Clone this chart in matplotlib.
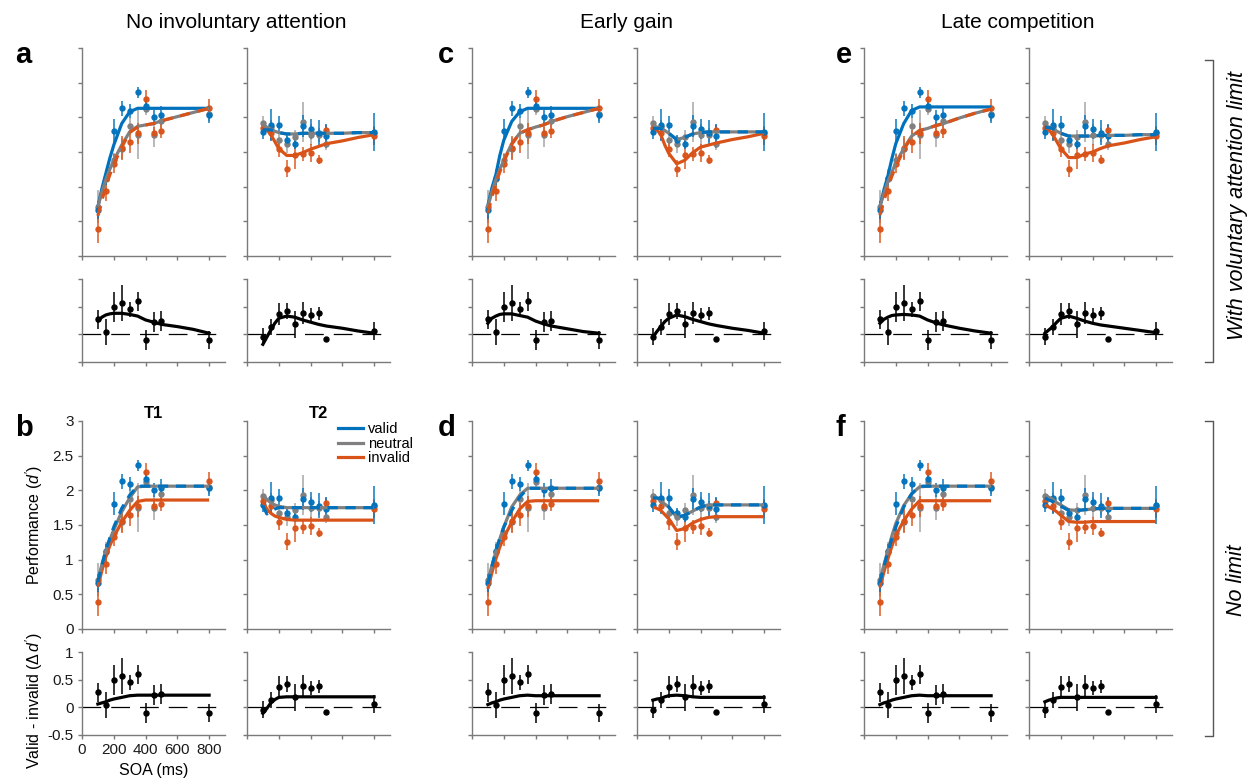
import matplotlib
matplotlib.use('Agg')
import matplotlib.pyplot as plt
from matplotlib.lines import Line2D

plt.rcParams['font.family'] = ['Liberation Sans', 'DejaVu Sans']
plt.rcParams['mathtext.fontset'] = 'custom'
plt.rcParams['mathtext.rm'] = 'Liberation Sans'
plt.rcParams['mathtext.it'] = 'Liberation Sans:italic'

BLUE = '#0072BD'
ORANGE = '#D95319'
GRAY = '#808080'
GRAY_ERR = '#a6a6a6'

# ---------------- data (same in every panel) ----------------
SOA = [100, 150, 200, 250, 300, 350, 400, 450, 500, 800]

T1_valid = [0.66, 1.13, 1.81, 2.13, 2.09, 2.36, 2.17, 2.01, 2.04, 2.04]
T1_valid_err = [0.13, 0.10, 0.17, 0.11, 0.10, 0.08, 0.09, 0.10, 0.13, 0.12]
T1_neutral = [0.71, 1.11, 1.38, 1.55, 1.87, 1.75, 2.12, 1.75, 1.94, 2.05]
T1_neutral_err = [0.24, 0.15, 0.10, 0.15, 0.12, 0.35, 0.08, 0.18, 0.10, 0.10]
T1_invalid = [0.39, 0.94, 1.33, 1.56, 1.65, 1.77, 2.27, 1.78, 1.80, 2.14]
T1_invalid_err = [0.20, 0.15, 0.14, 0.17, 0.17, 0.15, 0.13, 0.08, 0.10, 0.12]

T2_valid = [1.79, 1.89, 1.89, 1.67, 1.62, 1.87, 1.83, 1.78, 1.73, 1.79]
T2_valid_err = [0.10, 0.23, 0.13, 0.08, 0.07, 0.16, 0.14, 0.18, 0.17, 0.27]
T2_neutral = [1.92, 1.86, 1.68, 1.61, 1.72, 1.93, 1.75, 1.75, 1.61, 1.78]
T2_neutral_err = [0.10, 0.10, 0.10, 0.12, 0.10, 0.29, 0.15, 0.10, 0.08, 0.10]
T2_invalid = [1.84, 1.77, 1.54, 1.26, 1.46, 1.47, 1.48, 1.39, 1.82, 1.73]
T2_invalid_err = [0.10, 0.10, 0.11, 0.12, 0.20, 0.10, 0.13, 0.06, 0.07, 0.13]

T1_diff = [0.27, 0.04, 0.50, 0.57, 0.45, 0.60, -0.10, 0.22, 0.24, -0.10]
T1_diff_err = [0.17, 0.23, 0.27, 0.33, 0.14, 0.17, 0.18, 0.18, 0.18, 0.16]
T2_diff = [-0.04, 0.13, 0.36, 0.42, 0.18, 0.39, 0.35, 0.38, -0.08, 0.06]
T2_diff_err = [0.15, 0.14, 0.20, 0.14, 0.24, 0.20, 0.12, 0.12, 0.02, 0.17]

# ---------------- model fits ----------------
SOA_FIT = [100, 125, 150, 175, 200, 250, 300, 350, 400, 450, 500, 600, 700, 800]

# a: no involuntary attention, with voluntary limit
a1_valid = [0.71, 0.97, 1.19, 1.41, 1.60, 1.91, 2.08, 2.13, 2.13, 2.13, 2.13, 2.13, 2.13, 2.13]
a1_neutral = [0.71, 0.92, 1.10, 1.25, 1.38, 1.60, 1.79, 1.87, 1.89, 1.91, 1.95, 2.01, 2.07, 2.13]
a1_invalid = [0.58, 0.80, 1.00, 1.17, 1.32, 1.57, 1.78, 1.86, 1.89, 1.91, 1.95, 2.01, 2.07, 2.13]
a2_valid = [1.82, 1.82, 1.82, 1.80, 1.78, 1.76, 1.76, 1.77, 1.77, 1.77, 1.77, 1.77, 1.78, 1.78]
a2_neutral = [1.89, 1.86, 1.83, 1.80, 1.78, 1.76, 1.76, 1.77, 1.77, 1.77, 1.77, 1.77, 1.78, 1.78]
a2_invalid = [1.87, 1.82, 1.75, 1.65, 1.55, 1.45, 1.45, 1.49, 1.54, 1.58, 1.62, 1.66, 1.71, 1.75]
a1_diff = [0.24, 0.31, 0.35, 0.37, 0.38, 0.38, 0.36, 0.33, 0.26, 0.22, 0.18, 0.14, 0.09, 0.02]
a2_diff = [-0.18, -0.05, 0.08, 0.20, 0.29, 0.33, 0.31, 0.26, 0.22, 0.18, 0.15, 0.11, 0.06, 0.02]

# b: no involuntary attention, no limit
b1_valid = [0.68, 0.92, 1.13, 1.31, 1.47, 1.74, 1.93, 2.06, 2.06, 2.06, 2.06, 2.06, 2.06, 2.06]
b1_neutral = [0.70, 0.93, 1.13, 1.29, 1.43, 1.69, 1.89, 2.05, 2.06, 2.06, 2.06, 2.06, 2.06, 2.06]
b1_invalid = [0.61, 0.84, 1.04, 1.20, 1.33, 1.54, 1.71, 1.84, 1.86, 1.86, 1.86, 1.86, 1.86, 1.86]
b2_valid = [1.78, 1.66, 1.70, 1.73, 1.75, 1.75, 1.75, 1.75, 1.75, 1.75, 1.75, 1.75, 1.75, 1.75]
b2_neutral = [1.93, 1.87, 1.82, 1.79, 1.77, 1.75, 1.75, 1.75, 1.75, 1.75, 1.75, 1.75, 1.75, 1.75]
b2_invalid = [1.83, 1.73, 1.67, 1.63, 1.61, 1.58, 1.57, 1.57, 1.57, 1.57, 1.57, 1.57, 1.57, 1.57]
b1_diff = [0.06, 0.08, 0.10, 0.13, 0.15, 0.18, 0.21, 0.22, 0.22, 0.22, 0.22, 0.22, 0.22, 0.22]
b2_diff = [-0.11, -0.02, 0.08, 0.14, 0.18, 0.19, 0.19, 0.19, 0.19, 0.19, 0.19, 0.19, 0.19, 0.19]

# c: early gain, with voluntary limit
c1_valid = [0.73, 0.98, 1.17, 1.45, 1.67, 1.94, 2.08, 2.13, 2.13, 2.13, 2.13, 2.13, 2.13, 2.13]
c1_neutral = [0.71, 0.92, 1.10, 1.25, 1.38, 1.62, 1.77, 1.82, 1.86, 1.89, 1.94, 2.01, 2.07, 2.13]
c1_invalid = [0.62, 0.85, 1.05, 1.21, 1.36, 1.61, 1.77, 1.82, 1.86, 1.89, 1.94, 2.01, 2.07, 2.13]
c2_valid = [1.84, 1.84, 1.84, 1.81, 1.77, 1.68, 1.71, 1.76, 1.78, 1.79, 1.79, 1.79, 1.79, 1.79]
c2_neutral = [1.88, 1.86, 1.84, 1.81, 1.77, 1.68, 1.71, 1.76, 1.78, 1.79, 1.79, 1.79, 1.79, 1.79]
c2_invalid = [1.85, 1.82, 1.75, 1.60, 1.48, 1.33, 1.38, 1.49, 1.57, 1.60, 1.63, 1.68, 1.72, 1.77]
c1_diff = [0.20, 0.29, 0.33, 0.36, 0.37, 0.37, 0.34, 0.31, 0.24, 0.19, 0.15, 0.10, 0.05, 0.02]
c2_diff = [-0.05, 0.05, 0.14, 0.23, 0.29, 0.35, 0.32, 0.27, 0.23, 0.19, 0.16, 0.11, 0.07, 0.02]

# d: early gain, no limit
d1_valid = [0.65, 0.90, 1.13, 1.31, 1.47, 1.71, 1.90, 2.03, 2.03, 2.03, 2.03, 2.03, 2.03, 2.03]
d1_neutral = [0.70, 0.91, 1.11, 1.30, 1.47, 1.76, 1.93, 2.03, 2.03, 2.03, 2.03, 2.03, 2.03, 2.03]
d1_invalid = [0.58, 0.81, 1.01, 1.18, 1.32, 1.54, 1.73, 1.84, 1.85, 1.85, 1.85, 1.85, 1.85, 1.85]
d2_valid = [1.89, 1.89, 1.88, 1.82, 1.76, 1.61, 1.64, 1.70, 1.76, 1.79, 1.79, 1.79, 1.79, 1.79]
d2_neutral = [1.93, 1.89, 1.85, 1.80, 1.76, 1.61, 1.64, 1.70, 1.76, 1.79, 1.79, 1.79, 1.79, 1.79]
d2_invalid = [1.76, 1.74, 1.71, 1.65, 1.59, 1.42, 1.45, 1.53, 1.58, 1.61, 1.62, 1.62, 1.62, 1.62]
d1_diff = [0.05, 0.08, 0.10, 0.13, 0.15, 0.18, 0.21, 0.22, 0.21, 0.21, 0.21, 0.21, 0.21, 0.21]
d2_diff = [0.13, 0.15, 0.16, 0.19, 0.21, 0.22, 0.21, 0.19, 0.18, 0.18, 0.18, 0.18, 0.18, 0.18]

# e: late competition, with voluntary limit
e1_valid = [0.71, 0.95, 1.15, 1.40, 1.62, 1.91, 2.10, 2.15, 2.15, 2.15, 2.15, 2.15, 2.15, 2.15]
e1_neutral = [0.71, 0.90, 1.07, 1.21, 1.34, 1.55, 1.73, 1.81, 1.84, 1.88, 1.91, 1.99, 2.06, 2.12]
e1_invalid = [0.59, 0.80, 0.98, 1.15, 1.29, 1.53, 1.72, 1.81, 1.84, 1.88, 1.91, 1.99, 2.06, 2.12]
e2_valid = [1.86, 1.85, 1.84, 1.80, 1.77, 1.73, 1.73, 1.73, 1.73, 1.74, 1.74, 1.74, 1.75, 1.75]
e2_neutral = [1.88, 1.86, 1.84, 1.80, 1.77, 1.73, 1.73, 1.73, 1.73, 1.74, 1.74, 1.74, 1.75, 1.75]
e2_invalid = [1.87, 1.82, 1.75, 1.65, 1.55, 1.42, 1.42, 1.47, 1.50, 1.55, 1.59, 1.63, 1.68, 1.72]
e1_diff = [0.20, 0.27, 0.31, 0.34, 0.35, 0.36, 0.35, 0.33, 0.26, 0.21, 0.17, 0.11, 0.06, 0.02]
e2_diff = [0.02, 0.08, 0.14, 0.22, 0.29, 0.33, 0.29, 0.24, 0.20, 0.17, 0.15, 0.11, 0.07, 0.03]

# f: late competition, no limit
f1_valid = [0.67, 0.90, 1.11, 1.30, 1.47, 1.76, 1.95, 2.06, 2.06, 2.06, 2.06, 2.06, 2.06, 2.06]
f1_neutral = [0.70, 0.92, 1.13, 1.34, 1.52, 1.78, 1.95, 2.05, 2.06, 2.06, 2.06, 2.06, 2.06, 2.06]
f1_invalid = [0.60, 0.82, 1.01, 1.19, 1.35, 1.56, 1.73, 1.85, 1.85, 1.85, 1.85, 1.85, 1.85, 1.85]
f2_valid = [1.89, 1.86, 1.84, 1.80, 1.77, 1.71, 1.71, 1.72, 1.73, 1.74, 1.74, 1.74, 1.74, 1.74]
f2_neutral = [1.93, 1.90, 1.87, 1.82, 1.79, 1.72, 1.71, 1.72, 1.73, 1.74, 1.74, 1.74, 1.74, 1.74]
f2_invalid = [1.79, 1.76, 1.73, 1.69, 1.64, 1.55, 1.54, 1.54, 1.55, 1.55, 1.55, 1.55, 1.55, 1.55]
f1_diff = [0.05, 0.08, 0.10, 0.13, 0.15, 0.18, 0.21, 0.22, 0.21, 0.21, 0.21, 0.21, 0.21, 0.21]
f2_diff = [0.10, 0.13, 0.15, 0.17, 0.18, 0.18, 0.18, 0.18, 0.18, 0.18, 0.18, 0.18, 0.18, 0.18]

COLUMN_TITLES = ['No involuntary attention', 'Early gain', 'Late competition']
ROW_LABELS = ['With voluntary attention limit', 'No limit']
PERF_TICKS = [0, 0.5, 1, 1.5, 2, 2.5, 3]
PERF_TICKLABELS = ['0', '0.5', '1', '1.5', '2', '2.5', '3']
DIFF_TICKS = [-0.5, 0, 0.5, 1]
DIFF_TICKLABELS = ['-0.5', '0', '0.5', '1']
SOA_TICKS = [0, 200, 400, 600, 800]
SOA_TICKLABELS = ['0', '200', '400', '600', '800']

# which colored fit coincides with neutral (drawn dashed)
panels = {
    'a': dict(t1=(a1_valid, a1_neutral, a1_invalid), t2=(a2_valid, a2_neutral, a2_invalid),
              d=(a1_diff, a2_diff), dash1='invalid', dash2='valid'),
    'b': dict(t1=(b1_valid, b1_neutral, b1_invalid), t2=(b2_valid, b2_neutral, b2_invalid),
              d=(b1_diff, b2_diff), dash1='valid', dash2='valid'),
    'c': dict(t1=(c1_valid, c1_neutral, c1_invalid), t2=(c2_valid, c2_neutral, c2_invalid),
              d=(c1_diff, c2_diff), dash1='invalid', dash2='valid'),
    'd': dict(t1=(d1_valid, d1_neutral, d1_invalid), t2=(d2_valid, d2_neutral, d2_invalid),
              d=(d1_diff, d2_diff), dash1='valid', dash2='valid'),
    'e': dict(t1=(e1_valid, e1_neutral, e1_invalid), t2=(e2_valid, e2_neutral, e2_invalid),
              d=(e1_diff, e2_diff), dash1='invalid', dash2='valid'),
    'f': dict(t1=(f1_valid, f1_neutral, f1_invalid), t2=(f2_valid, f2_neutral, f2_invalid),
              d=(f1_diff, f2_diff), dash1='valid', dash2='valid'),
}

W, H = 1248, 781
fig = plt.figure(figsize=(W / 100, H / 100), dpi=100)

SPINE = '#7a7a7a'
LW_FIT = 2.3
DASH = (3.2, 2.4)


def px_axes(left, top, width, height):
    return fig.add_axes([left / W, 1 - (top + height) / H, width / W, height / H])


def style(ax):
    for s in ['top', 'right']:
        ax.spines[s].set_visible(False)
    for s in ['left', 'bottom']:
        ax.spines[s].set_color(SPINE)
        ax.spines[s].set_linewidth(1.0)
    ax.tick_params(direction='out', length=3, width=1.0, color=SPINE,
                   labelsize=11, labelcolor='#1a1a1a', pad=3)
    ax.set_xlim(0, 900)
    ax.set_xticks(SOA_TICKS)


def draw_perf(ax, data, fits, dashed):
    fv, fn, fi = fits
    vals, errs = data
    ax.errorbar(SOA, vals[1], yerr=errs[1], fmt='o', ms=3.6, color=GRAY, ecolor=GRAY_ERR,
                elinewidth=1.1, capsize=0, zorder=2)
    ax.errorbar(SOA, vals[2], yerr=errs[2], fmt='o', ms=3.6, color=ORANGE, ecolor=ORANGE,
                elinewidth=1.1, capsize=0, zorder=2, alpha=0.95)
    ax.errorbar(SOA, vals[0], yerr=errs[0], fmt='o', ms=3.6, color=BLUE, ecolor=BLUE,
                elinewidth=1.1, capsize=0, zorder=2, alpha=0.95)
    solid_key = 'invalid' if dashed == 'valid' else 'valid'
    lines = {'valid': (fv, BLUE), 'invalid': (fi, ORANGE)}
    ys, col = lines[solid_key]
    ax.plot(SOA_FIT, ys, color=col, lw=LW_FIT, zorder=3, solid_capstyle='butt')
    ax.plot(SOA_FIT, fn, color=GRAY, lw=LW_FIT, zorder=4, solid_capstyle='butt')
    ys, col = lines[dashed]
    ax.plot(SOA_FIT, ys, color=col, lw=LW_FIT, zorder=5, dashes=DASH, dash_capstyle='butt')
    ax.set_ylim(0, 3)
    ax.set_yticks(PERF_TICKS)


def draw_diff(ax, vals, errs, fit):
    ax.hlines(0, 0, 850, colors='k', lw=0.9, linestyles=(0, (15, 8)), zorder=1)
    ax.errorbar(SOA, vals, yerr=errs, fmt='o', ms=3.6, color='k', ecolor='k',
                elinewidth=1.1, capsize=0, zorder=2)
    ax.plot(SOA_FIT, fit, color='k', lw=LW_FIT, zorder=3)
    ax.set_ylim(-0.5, 1)
    ax.set_yticks(DIFF_TICKS)


group_left = [82, 472, 864]
t2_offset = 165
AX_W = 143
row_tops = [48, 421]
PERF_H = 208
DIFF_GAP = 23
DIFF_H = 83

letters = [['a', 'b'], ['c', 'd'], ['e', 'f']]
letter_x = [15, 438, 836]

t1_data = ((T1_valid, T1_neutral, T1_invalid), (T1_valid_err, T1_neutral_err, T1_invalid_err))
t2_data = ((T2_valid, T2_neutral, T2_invalid), (T2_valid_err, T2_neutral_err, T2_invalid_err))

for gi, gl in enumerate(group_left):
    for ri, rt in enumerate(row_tops):
        key = letters[gi][ri]
        p = panels[key]
        for ti in range(2):
            left = gl + ti * t2_offset
            axp = px_axes(left, rt, AX_W, PERF_H)
            axd = px_axes(left, rt + PERF_H + DIFF_GAP, AX_W, DIFF_H)
            style(axp)
            style(axd)
            if ti == 0:
                draw_perf(axp, t1_data, p['t1'], p['dash1'])
                draw_diff(axd, T1_diff, T1_diff_err, p['d'][0])
            else:
                draw_perf(axp, t2_data, p['t2'], p['dash2'])
                draw_diff(axd, T2_diff, T2_diff_err, p['d'][1])
            show = (key == 'b' and ti == 0)
            axp.set_xticklabels([])
            if show:
                axp.set_yticklabels(PERF_TICKLABELS)
                axd.set_yticklabels(DIFF_TICKLABELS)
                axd.set_xticklabels(SOA_TICKLABELS)
                axp.set_ylabel("Performance ($d'$)", fontsize=11.5)
                axd.set_ylabel("Valid - invalid ($\\Delta\\, d'$)", fontsize=11.5)
                axp.yaxis.set_label_coords(-0.26, 0.5)
                axd.yaxis.set_label_coords(-0.26, 0.42)
                axd.set_xlabel('SOA (ms)', fontsize=11.5, labelpad=4)
            else:
                axp.set_yticklabels([])
                axd.set_yticklabels([])
                axd.set_xticklabels([])
            if key == 'b':
                axp.set_title('T1' if ti == 0 else 'T2', fontsize=12, fontweight='bold', pad=1)
            if key == 'b' and ti == 1:
                handles = [Line2D([], [], color=BLUE, lw=LW_FIT),
                           Line2D([], [], color=GRAY, lw=LW_FIT),
                           Line2D([], [], color=ORANGE, lw=LW_FIT)]
                axp.legend(handles, ['valid', 'neutral', 'invalid'], loc='upper right',
                           bbox_to_anchor=(1.16, 0.995), frameon=False, fontsize=10.5,
                           handlelength=1.7, handletextpad=0.35, labelspacing=0.05,
                           borderaxespad=0, borderpad=0)
        fig.text(letter_x[gi] / W, 1 - (rt + 15) / H, key, fontsize=21, fontweight='bold',
                 ha='left', va='baseline')
    cx = (gl + gl + t2_offset + AX_W) / 2
    fig.text(cx / W, 1 - 22 / H, COLUMN_TITLES[gi], fontsize=15, ha='center', va='center')

# right-hand brackets
brackets = [(60, 362), (421, 736)]
label_y = [205, 580]
for (yt, yb), lab, ly in zip(brackets, ROW_LABELS, label_y):
    fig.add_artist(Line2D([1205 / W, 1213 / W, 1213 / W, 1205 / W],
                          [1 - yt / H, 1 - yt / H, 1 - yb / H, 1 - yb / H],
                          transform=fig.transFigure, color='#555555', lw=1.0))
    fig.text(1237 / W, 1 - ly / H, lab, rotation=90, fontsize=15.5, style='italic',
             ha='center', va='center')

fig.savefig('out.png', dpi=100)
